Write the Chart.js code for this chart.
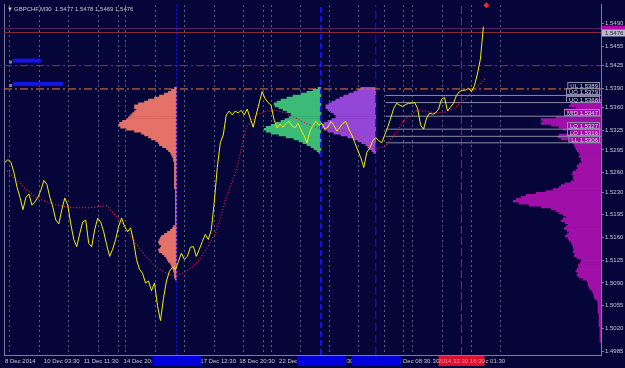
<!DOCTYPE html>
<html>
<head>
<meta charset="utf-8">
<script src="https://cdn.jsdelivr.net/npm/chart.js@4.4.1/dist/chart.umd.min.js"></script>
<style>
  html, body { margin: 0; padding: 0; background: #05053a; }
  canvas { display: block; }
</style>
</head>
<body>
<canvas id="grafico" width="625" height="368"></canvas>
<script>
// GBPCHF M30
const symbolTitle = 'GBPCHF,M30  1.5477 1.5478 1.5469 1.5476';

// fechamentos (uma amostra a cada 3 barras)
const closeFirstBar = 1;
const closeStep = 3;
const closes = [
  1.5276, 1.5280, 1.5276, 1.5260, 1.5238, 1.5222, 1.5203, 1.5222, 1.5227, 1.5210,
  1.5215, 1.5222, 1.5233, 1.5248, 1.5242, 1.5222, 1.5207, 1.5187, 1.5181, 1.5203,
  1.5221, 1.5210, 1.5181, 1.5157, 1.5146, 1.5166, 1.5184, 1.5187, 1.5151, 1.5146,
  1.5172, 1.5190, 1.5184, 1.5169, 1.5149, 1.5131, 1.5142, 1.5157, 1.5177, 1.5190,
  1.5177, 1.5169, 1.5175, 1.5154, 1.5126, 1.5111, 1.5105, 1.5090, 1.5093, 1.5078,
  1.5090, 1.5055, 1.5032, 1.5066, 1.5093, 1.5108, 1.5114, 1.5111, 1.5123, 1.5136,
  1.5126, 1.5131, 1.5145, 1.5146, 1.5131, 1.5142, 1.5154, 1.5165, 1.5157, 1.5172,
  1.5215, 1.5268, 1.5306, 1.5318, 1.5349, 1.5355, 1.5349, 1.5355, 1.5352, 1.5356,
  1.5349, 1.5358, 1.5344, 1.5330, 1.5349, 1.5367, 1.5385, 1.5374, 1.5368, 1.5364,
  1.5341, 1.5329, 1.5335, 1.5330, 1.5336, 1.5339, 1.5332, 1.5329, 1.5336, 1.5326,
  1.5317, 1.5306, 1.5324, 1.5333, 1.5339, 1.5333, 1.5336, 1.5327, 1.5330, 1.5339,
  1.5333, 1.5324, 1.5330, 1.5336, 1.5339, 1.5327, 1.5318, 1.5306, 1.5294, 1.5283,
  1.5268, 1.5291, 1.5298, 1.5309, 1.5314, 1.5309, 1.5306, 1.5318, 1.5330, 1.5344,
  1.5359, 1.5367, 1.5364, 1.5362, 1.5365, 1.5367, 1.5367, 1.5368, 1.5359, 1.5333,
  1.5327, 1.5344, 1.5352, 1.5350, 1.5352, 1.5358, 1.5373, 1.5376, 1.5355, 1.5361,
  1.5367, 1.5379, 1.5385, 1.5387, 1.5387, 1.5390, 1.5385, 1.5394, 1.5412, 1.5435,
  1.5485
];

// média móvel (pontilhada vermelha)
const maFirstBar = 3;
const maStep = 10;
const maValues = [
  1.5263, 1.5248, 1.5233, 1.5221, 1.5215, 1.5210, 1.5207, 1.5206, 1.5206, 1.5207,
  1.5209, 1.5192, 1.5172, 1.5149, 1.5130, 1.5114, 1.5105, 1.5101, 1.5108, 1.5120,
  1.5142, 1.5169, 1.5222, 1.5263, 1.5329, 1.5349, 1.5355, 1.5356, 1.5352, 1.5344,
  1.5336, 1.5330, 1.5327, 1.5326, 1.5324, 1.5318, 1.5306, 1.5297, 1.5301, 1.5321,
  1.5344, 1.5355, 1.5355, 1.5352, 1.5353, 1.5361, 1.5374, 1.5390, 1.5405
];

// eixos
const yTicks = [1.4985, 1.5020, 1.5055, 1.5090, 1.5125, 1.5160, 1.5195, 1.5230,
  1.5260, 1.5295, 1.5325, 1.5360, 1.5390, 1.5425, 1.5455, 1.5490];
const xLabelBars = [1, 40, 80, 120, 159, 197, 236, 276, 315, 354, 392, 430, 467];
const xLabels = ['8 Dec 2014', '10 Dec 03:30', '11 Dec 11:30', '14 Dec 20:30', '16 Dec 04:30',
  '17 Dec 12:30', '18 Dec 20:30', '22 Dec 04:30', '23 Dec 12:30', '24 Dec 20:30',
  '29 Dec 08:30', '30 Dec 16:30', '31 Dec 01:30'];
const gridBars = [6, 36, 65, 95, 115, 122, 152, 181, 211, 240, 260, 268, 297, 327,
  356, 382, 401, 410, 440, 469, 498];

// linhas verticais e horizontais
const blueLineBars = [173, 318, 373];
const cursorBar = 459;
const cursorLabel = '2014.12.30 16:30';
const levelNames = ['UL', 'UO', 'UQ', 'MID', 'LQ', 'LO', 'LL'];
const levelPrices = [1.5389, 1.5379, 1.5368, 1.5347, 1.5327, 1.5316, 1.5306];
const levelStartBar = 383;
const redLevel = 1.5425;
const orangeLevel = 1.5389;
const bidPrice = 1.5476;
const askPrice = 1.5482;
const markerBar = 484;
const markerPrice = 1.5518;

// perfis de volume
const rowStep = 0.0003;
const salmonAnchor = 173, salmonTop = 1.5390;
const salmonVols = [2, 5, 8, 12, 17, 22, 28, 32, 38, 42, 42, 40, 42, 44, 46, 48, 50, 54, 57, 58,
  56, 50, 42, 35, 32, 28, 25, 20, 18, 17, 14, 10, 8, 6, 5, 4, 3, 3,
  2, 2, 2, 2, 2, 2, 2, 2, 2, 2, 2, 2, 2, 2,
  1, 1, 1, 1, 1, 1, 1, 1, 1, 1, 1, 1, 1, 1, 1, 1, 1, 1, 1,
  3, 4, 6, 9, 12, 15, 16, 17, 18, 17, 15, 16, 18, 17, 14, 12, 10, 9, 8, 6, 5, 4, 3, 3, 2, 2, 2, 1];
const greenAnchor = 318, greenTop = 1.5390;
const greenVols = [3, 8, 14, 20, 28, 34, 40, 44, 47, 46, 42, 38, 34, 30, 30, 32, 36, 40, 45, 50,
  55, 57, 55, 50, 42, 35, 27, 22, 18, 14, 10, 7, 4, 2];
const purpleAnchor = 373, purpleTop = 1.5390;
const purpleVols = [15, 18, 22, 27, 32, 36, 40, 44, 47, 50, 50, 48, 45, 42, 40, 40, 44, 48, 52, 55,
  55, 52, 48, 42, 35, 28, 22, 18, 14, 10, 8, 6, 4, 2];
const magentaAnchor = 599, magentaTop = 1.5372;
const magentaVols = [3, 10, 30, 32, 25, 35, 33, 25, 30, 45, 60, 58, 60, 50, 42, 38, 30, 30, 42, 43,
  40, 32, 28, 27, 26, 25, 24, 22, 21, 22, 20, 20, 19, 22, 24, 23, 25, 28, 29, 27,
  28, 27, 30, 36, 40, 42, 48, 55, 65, 75, 80, 85, 88, 82, 72, 60, 50, 45, 42, 38,
  35, 38, 40, 36, 33, 35, 37, 34, 32, 34, 36, 33, 32, 30, 29, 28, 28, 27, 28, 26,
  27, 24, 20, 20, 21, 23, 22, 24, 25, 23, 24, 22, 18, 14, 13, 13, 12, 11, 9, 8,
  7, 7, 6, 4, 3, 3, 3, 3, 3, 3, 2, 2, 2, 2, 2, 2, 2, 1, 1, 1, 1, 1, 1, 1, 1];

const fonte = { family: 'Liberation Sans', size: 6 };
const corTexto = '#c8c8d2';
const corEixo = '#7c7ca0';

function perfil(anchor, top, vols) {
  return vols.map((v, i) => ({ y: +(top - i * rowStep).toFixed(5), x: [anchor - v, anchor] }));
}

function linhaH(price, from, to) {
  return [{ x: from, y: price }, { x: to, y: price }];
}

function linhaV(bar) {
  return [{ x: bar, y: 1.4979 }, { x: bar, y: 1.5519 }];
}

function barrasPerfil(label, data, cor) {
  return {
    type: 'bar', label: label, data: data, indexAxis: 'y',
    backgroundColor: cor, borderWidth: 0, grouped: false,
    barPercentage: 1, categoryPercentage: 1, order: 10
  };
}

function linha(label, data, cor, dash, largura, ordem) {
  return {
    type: 'line', label: label, data: data, borderColor: cor, borderWidth: largura,
    borderDash: dash, pointRadius: 0, fill: false, tension: 0, order: ordem
  };
}

const desenhosExtras = {
  id: 'desenhosExtras',
  afterDraw(chart) {
    const { ctx, chartArea: area, scales } = chart;
    const x = scales.x, y = scales.y;
    ctx.save();
    ctx.font = '6px "Liberation Sans", Arial, sans-serif';

    // título
    ctx.fillStyle = corTexto;
    ctx.textBaseline = 'middle';
    ctx.textAlign = 'left';
    ctx.fillText('▼', area.left + 3, area.top + 5);
    ctx.fillText(symbolTitle, area.left + 10, area.top + 5);

    // rótulos azuis das linhas à esquerda
    [[redLevel, 28], [orangeLevel, 50]].forEach(([p, w]) => {
      const py = y.getPixelForValue(p);
      ctx.fillStyle = '#7c7ca0';
      ctx.fillRect(area.left + 5, py - 5, 3, 3);
      ctx.fillStyle = '#1414e6';
      ctx.fillRect(area.left + 9, py - 7, w, 4);
    });

    // rótulos dos níveis
    ctx.textAlign = 'right';
    ctx.textBaseline = 'bottom';
    levelNames.forEach((n, i) => {
      const py = Math.round(y.getPixelForValue(levelPrices[i]));
      const txt = n + ' ' + levelPrices[i].toFixed(4);
      const w = ctx.measureText(txt).width;
      ctx.strokeStyle = '#8c8ca8';
      ctx.lineWidth = 1;
      ctx.strokeRect(area.right - w - 5.5, py - 6.5, w + 4, 6);
      ctx.fillStyle = '#d8d8e0';
      ctx.fillText(txt, area.right - 3, py);
    });

    // preços no eixo
    const pyAsk = y.getPixelForValue(askPrice);
    ctx.fillStyle = '#b400b4';
    ctx.fillRect(area.right + 1, pyAsk - 3, 23, 6);
    const pyBid = y.getPixelForValue(bidPrice);
    ctx.fillStyle = '#b8b8c8';
    ctx.fillRect(area.right + 1, pyBid - 3, 23, 7);
    ctx.fillStyle = '#202040';
    ctx.textAlign = 'left';
    ctx.textBaseline = 'middle';
    ctx.fillText(bidPrice.toFixed(4), area.right + 4, pyBid + 0.5);

    // caixas das linhas verticais no eixo do tempo
    blueLineBars.forEach(b => {
      const px = x.getPixelForValue(b);
      ctx.fillStyle = '#0000dc';
      ctx.fillRect(px - 24, area.bottom + 1, 49, 10);
    });
    const pr = x.getPixelForValue(cursorBar);
    ctx.fillStyle = '#dc1030';
    ctx.fillRect(pr - 23, area.bottom + 1, 46, 10);
    ctx.fillStyle = '#ff8a9a';
    ctx.textAlign = 'center';
    ctx.fillText(cursorLabel, pr, area.bottom + 6);
    ctx.restore();
  }
};

const ctx = document.getElementById('grafico');

new Chart(ctx, {
  type: 'line',
  data: {
    datasets: [
      linha('GBPCHF', closes.map((c, i) => ({ x: closeFirstBar + i * closeStep, y: c })), '#f0f000', [], 1, 0),
      linha('MA', maValues.map((v, i) => ({ x: maFirstBar + i * maStep, y: v })), '#e01838', [1, 2], 1.3, 1),
      {
        type: 'scatter', label: 'marca', data: [{ x: markerBar, y: markerPrice }],
        pointStyle: 'rectRot', pointRadius: 3, backgroundColor: '#e03030', borderWidth: 0,
        clip: false, order: 0
      },
      linha('ask', linhaH(askPrice, 0, 599), '#5a285a', [], 1, 3),
      linha('bid', linhaH(bidPrice, 0, 599), '#8c2838', [], 1, 3),
      linha('vermelha', linhaH(redLevel, 0, 599), '#c8143c', [8, 3, 2, 3], 1, 3),
      linha('laranja', linhaH(orangeLevel, 0, 599), '#e08040', [8, 3, 2, 3], 1, 3),
      ...levelPrices.slice(1).map((p, i) => linha(levelNames[i + 1], linhaH(p, levelStartBar, 599), '#8c8ca8', [], 1, 3)),
      linha('v1', linhaV(blueLineBars[0]), '#1010ff', [2, 2], 1, 4),
      linha('v2', linhaV(blueLineBars[1]), '#1010ff', [6, 3], 2, 4),
      linha('v3', linhaV(blueLineBars[2]), '#1010f0', [8, 4], 1, 4),
      linha('cursor', linhaV(cursorBar), '#c8103a', [8, 3], 1, 4),
      barrasPerfil('salmao', perfil(salmonAnchor, salmonTop, salmonVols), '#e47268'),
      barrasPerfil('verde', perfil(greenAnchor, greenTop, greenVols), '#3cba78'),
      barrasPerfil('roxo', perfil(purpleAnchor, purpleTop, purpleVols), '#9446d6'),
      barrasPerfil('magenta', perfil(magentaAnchor, magentaTop, magentaVols), '#a010a8')
    ]
  },
  options: {
    responsive: false,
    animation: false,
    devicePixelRatio: 1,
    layout: { padding: { left: 2, top: 0, right: 0, bottom: 0 } },
    plugins: { legend: { display: false }, tooltip: { enabled: false } },
    scales: {
      x: {
        type: 'linear', position: 'bottom', min: 0, max: 599, offset: false,
        grid: { display: false, drawTicks: false },
        border: { color: corEixo },
        afterBuildTicks: axis => { axis.ticks = xLabelBars.map(v => ({ value: v })); },
        afterFit: axis => { axis.height = 13; },
        ticks: {
          autoSkip: false, maxRotation: 0, align: 'start', padding: 3,
          color: corTexto, font: fonte,
          callback: (v, i) => xLabels[i]
        }
      },
      xg: {
        type: 'linear', position: 'top', min: 0, max: 599, offset: false,
        grid: { color: '#5c5c88', drawTicks: false },
        border: { display: false, dash: [2, 3] },
        ticks: { display: false },
        afterBuildTicks: axis => { axis.ticks = gridBars.map(v => ({ value: v })); },
        afterFit: axis => { axis.height = 0; }
      },
      y: {
        type: 'linear', position: 'right', min: 1.4979, max: 1.5519, offset: false,
        grid: { drawOnChartArea: false, offset: false, tickLength: 3, color: corEixo },
        border: { color: corEixo },
        afterBuildTicks: axis => { axis.ticks = yTicks.map(v => ({ value: v })); },
        afterFit: axis => { axis.width = 24; },
        ticks: {
          padding: 1, color: corTexto, font: fonte,
          callback: v => v.toFixed(4)
        }
      },
      yl: {
        type: 'linear', position: 'left', min: 0, max: 1,
        grid: { display: false },
        border: { color: corEixo },
        ticks: { display: false },
        afterFit: axis => { axis.width = 0; }
      }
    }
  },
  plugins: [desenhosExtras]
});
</script>
</body>
</html>
